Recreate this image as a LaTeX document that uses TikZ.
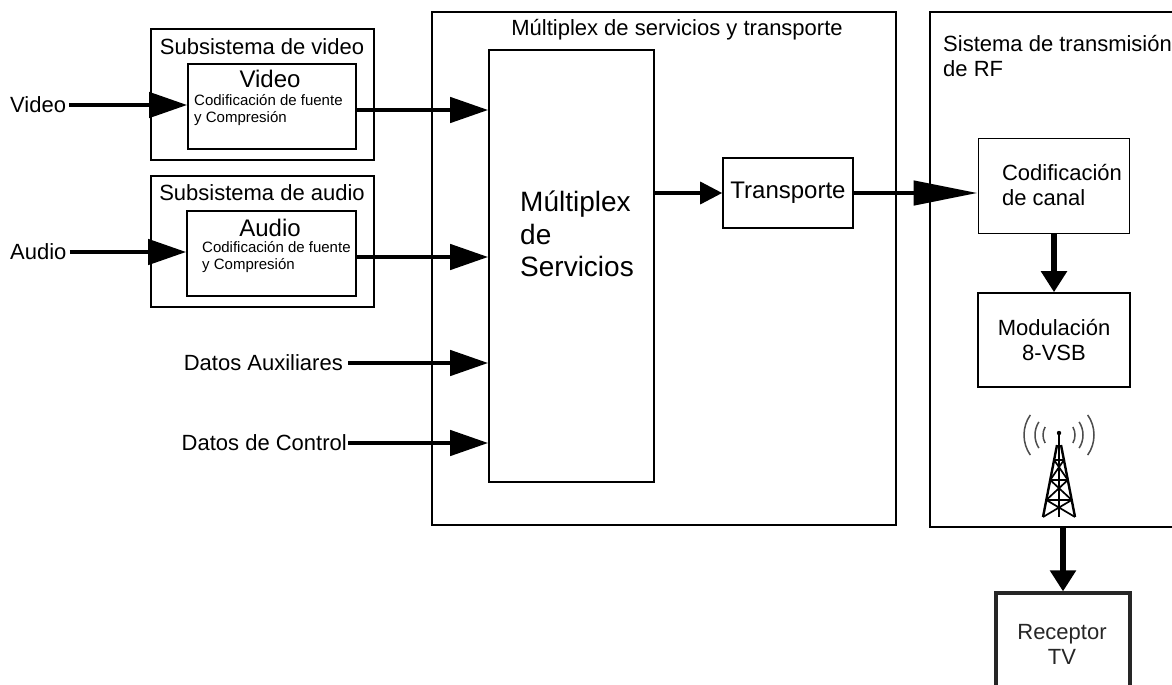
\documentclass[tikz,border=0pt]{standalone}
\usepackage{fontspec}
\setmainfont{Liberation Sans}
\usetikzlibrary{arrows.meta}

\begin{document}
\begin{tikzpicture}[x=1pt,y=-1pt,
blockbox/.style={rectangle, draw, line width=1.6pt, inner sep=0pt},
rxbox/.style={rectangle, draw=black!85, line width=3.2pt, inner sep=0pt},
maintext/.style={font=\fontsize{22}{25}\selectfont, inner sep=0pt},
midtext/.style={font=\fontsize{24}{27}\selectfont, inner sep=0pt},
hugetext/.style={font=\fontsize{28}{32.5}\selectfont, inner sep=0pt},
smalltext/.style={font=\fontsize{15}{17}\selectfont, inner sep=0pt, align=left},
bigarrow/.style={line width=4.5pt, -{Triangle[length=38pt,width=25pt]}},
smallarrow/.style={line width=3.5pt, -{Triangle[length=22pt,width=22pt]}},
longarrow/.style={line width=4.5pt, -{Triangle[length=64pt,width=24pt]}},
downarrow/.style={line width=5.5pt, -{Triangle[length=21pt,width=25pt]}},
]
\useasboundingbox (0,0) rectangle (1172,685);
\clip (0,0) rectangle (1172,685);
%Nodes
\node[blockbox, minimum width=464, minimum height=513] (muxouter) at (664,268.5) {};
\node[maintext] (muxtitle) at (677,30) {Múltiplex de servicios y transporte};
\node[blockbox, minimum width=250, minimum height=515] (rfouter) at (1055,269.5) {};
\node[maintext, align=left, anchor=north west] (rftitle) at (943,35) {Sistema de transmisión\\de RF};

\node[blockbox, minimum width=223, minimum height=131] (vidsub) at (262.5,94.5) {};
\node[maintext] (vidsubtitle) at (262,47) {Subsistema de video};
\node[blockbox, minimum width=168, minimum height=85] (vidcod) at (272,106.5) {};
\node[midtext] (vidname) at (270,79) {Video};
\node[smalltext, anchor=west] (viddesc) at (194,110) {Codificación de fuente\\y Compresión};

\node[blockbox, minimum width=223, minimum height=131] (audsub) at (262.5,241.5) {};
\node[maintext] (audsubtitle) at (262,193) {Subsistema de audio};
\node[blockbox, minimum width=169, minimum height=85] (audcod) at (271.5,253.5) {};
\node[midtext] (audname) at (270,228) {Audio};
\node[smalltext, anchor=west] (auddesc) at (202,257) {Codificación de fuente\\y Compresión};

\node[maintext, anchor=west, inner xsep=3pt] (vidin) at (7,105) {Video};
\node[maintext, anchor=west, inner xsep=3pt] (audin) at (7,252) {Audio};
\node[maintext, anchor=east, inner xsep=5pt] (auxin) at (348,363) {Datos Auxiliares};
\node[maintext, anchor=east, inner xsep=1pt] (ctrlin) at (348,443) {Datos de Control};

\node[blockbox, minimum width=165, minimum height=432] (mux) at (571.5,266) {};
\node[hugetext, align=left, anchor=west] (muxname) at (520,234) {Múltiplex\\de\\Servicios};

\node[blockbox, midtext, minimum width=130, minimum height=70] (trans) at (788,193) {Transporte};

\node[blockbox, minimum width=151, minimum height=95] (chcod) at (1054,186) {};
\node[maintext, align=left] (chcodname) at (1062,185) {Codificación\\de canal};
\node[blockbox, maintext, align=center, minimum width=152, minimum height=94] (modul) at (1054,340) {Modulación\\8-VSB};

\node[rxbox, minimum width=134, minimum height=120] (rx) at (1063,653) {};
\node[maintext, align=center, text=black!85] (rxname) at (1062,644) {Receptor\\TV};

\coordinate (ant) at (1059,435);

%Connectors
\draw[bigarrow] (vidin.east) -- (vidin.east -| vidcod.west);
\draw[bigarrow] (audin.east) -- (audin.east -| audcod.west);
\draw[bigarrow] ([yshift=-3.5pt]vidcod.east) -- ([yshift=-3.5pt]vidcod.east -| mux.west);
\draw[bigarrow] ([yshift=-3.5pt]audcod.east) -- ([yshift=-3.5pt]audcod.east -| mux.west);
\draw[bigarrow] (auxin.east) -- (auxin.east -| mux.west);
\draw[bigarrow] (ctrlin.east) -- (ctrlin.east -| mux.west);
\draw[smallarrow] (mux.east |- trans.west) -- (trans.west);
\draw[longarrow] (trans.east) -- (trans.east -| chcod.west);
\draw[downarrow] (chcod.south) -- (modul.north);
\draw[downarrow] (rx.north |- rfouter.south) -- (rx.north);

%Antenna
\fill (1059,433) circle (2.2);
\draw[line width=2.2pt] (1059,433) -- (1059,517);
\draw[line width=2.4pt] (1057,445) -- (1043,517) (1061,445) -- (1075,517);
\draw[line width=1.7pt] (1054.1,460) -- (1063.9,460) (1050.2,480) -- (1067.8,480) (1046.3,500) -- (1071.7,500);
\draw[line width=1.7pt] (1054.1,460) -- (1067.8,480) (1063.9,460) -- (1050.2,480)
  (1050.2,480) -- (1071.7,500) (1067.8,480) -- (1046.3,500)
  (1046.3,500) -- (1075,517) (1071.7,500) -- (1043,517);
\draw[line width=1.5pt, black!70] (ant) ++(150:16) arc[start angle=150, end angle=210, radius=16];
\draw[line width=1.5pt, black!70] (ant) ++(-30:16) arc[start angle=-30, end angle=30, radius=16];
\draw[line width=1.5pt, black!70] (ant) ++(147:24) arc[start angle=147, end angle=213, radius=24];
\draw[line width=1.5pt, black!70] (ant) ++(-33:24) arc[start angle=-33, end angle=33, radius=24];
\draw[line width=1.5pt, black!70] (ant) ++(145:35) arc[start angle=145, end angle=215, radius=35];
\draw[line width=1.5pt, black!70] (ant) ++(-35:35) arc[start angle=-35, end angle=35, radius=35];
\end{tikzpicture}
\end{document}
